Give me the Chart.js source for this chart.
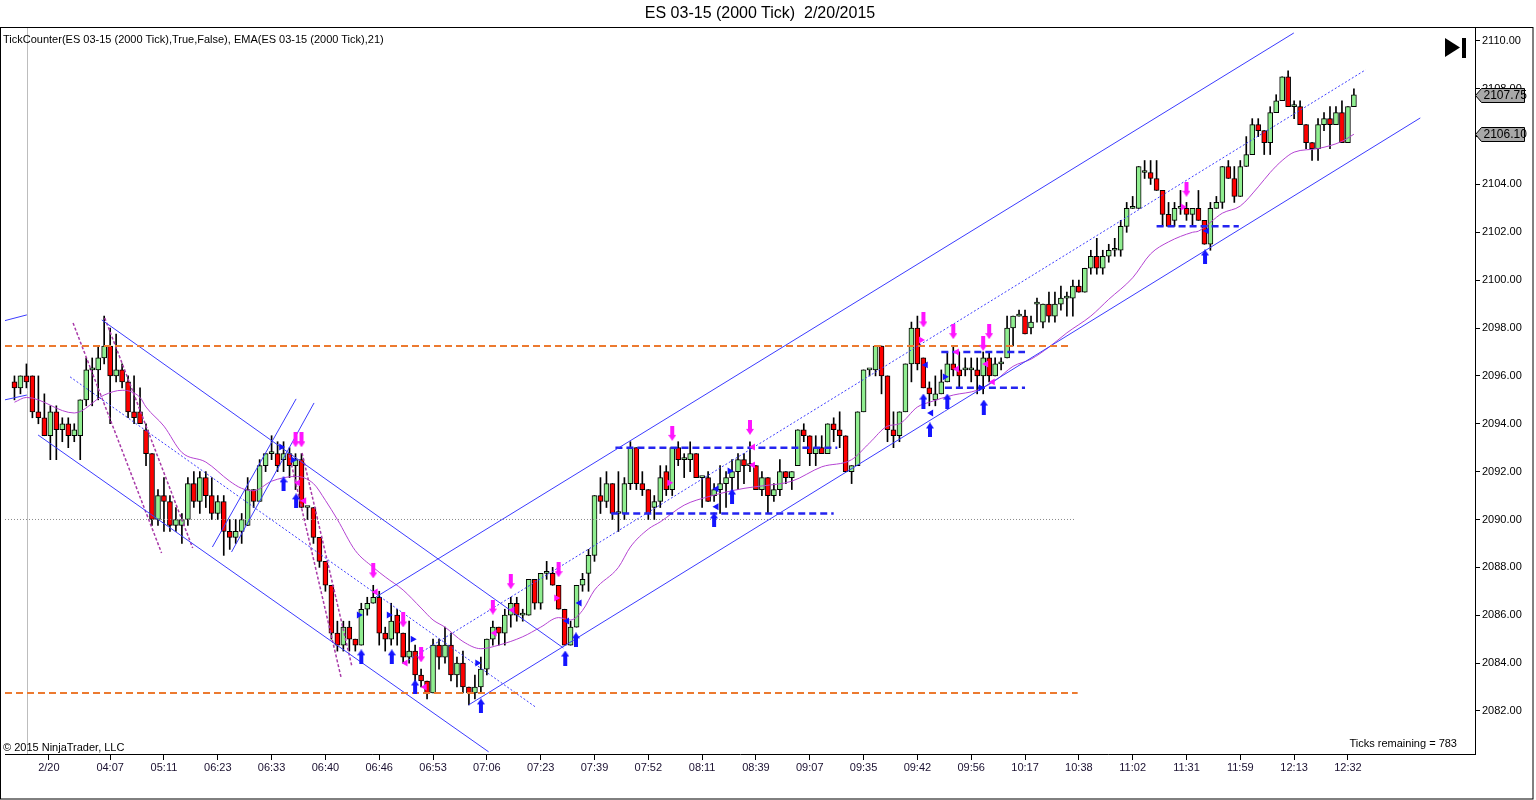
<!DOCTYPE html>
<html>
<head>
<meta charset="utf-8">
<title>ES 03-15 (2000 Tick) 2/20/2015</title>
<script src="https://cdn.jsdelivr.net/npm/chart.js@4.4.1/dist/chart.umd.min.js"></script>
<style>
  html, body { margin: 0; padding: 0; background: #fff; }
  #wrap { position: relative; width: 1536px; height: 800px; overflow: hidden; font-family: "Liberation Sans", Arial, sans-serif; }
  #wrap canvas { position: absolute; left: 0; top: 0; }
  .txt { position: absolute; white-space: pre; color: #000; line-height: 1; }
  #title { left: 0; width: 1520px; top: 5px; text-align: center; font-size: 16px; }
  #study { left: 3px; top: 34px; font-size: 11px; }
  #copy { left: 3px; top: 742px; font-size: 11px; }
  #ticks { right: 79px; top: 738px; font-size: 11px; }
</style>
</head>
<body>
<div id="wrap">
  <canvas id="chart" width="1536" height="800"></canvas>
  <div class="txt" id="title">ES 03-15 (2000 Tick)  2/20/2015</div>
  <div class="txt" id="study">TickCounter(ES 03-15 (2000 Tick),True,False), EMA(ES 03-15 (2000 Tick),21)</div>
  <div class="txt" id="copy">© 2015 NinjaTrader, LLC</div>
  <div class="txt" id="ticks">Ticks remaining = 783</div>
</div>
<script>
// --- data (one bar = one 2000 tick candle) ---

const opens = [2095.75,2095.5,2096,2096,2094.5,2094.25,2093.5,2094.5,2093.75,2094,
  2093.5,2093.5,2095,2096.25,2096.25,2096.75,2097.25,2096,2096.25,2095.75,
  2094.5,2094.5,2093.75,2092.75,2090,2091,2090.75,2089.75,2089.75,2090,
  2091.5,2090.75,2091.75,2091,2090.25,2090.75,2089.5,2089.25,2089.5,2089.75,
  2091.25,2090.75,2092.25,2092.75,2092.75,2092.5,2092.75,2092.25,2092.5,2090.5,
  2090.5,2089.25,2088.25,2087.25,2085.25,2084.75,2085.5,2085,2084.75,2086.25,
  2086.5,2086.75,2085.25,2085,2086,2085.25,2084.25,2084.5,2083.5,2083.25,
  2082.75,2084.75,2084.25,2084.75,2083.5,2084,2083,2082.75,2083,2083.75,
  2085,2085.5,2085.25,2086,2086.5,2086,2086,2087.5,2086.5,2087.75,
  2087.75,2087.25,2086.25,2084.75,2085.5,2087.25,2087.75,2088.5,2091,2090.75,
  2091.5,2090.25,2090.25,2091.5,2093,2091.5,2091.25,2090.5,2090.75,2092,
  2091.25,2093,2092.5,2092.5,2092.75,2091.75,2091.75,2091,2091.25,2091.5,
  2091.75,2092,2092.5,2092.25,2092.25,2091.25,2091.75,2091,2091.25,2092,
  2091.75,2092.25,2093.75,2093.5,2092.75,2093,2092.75,2094,2093.75,2093.5,
  2092,2092.25,2094.5,2096.25,2096.25,2097.25,2096,2093.75,2093.5,2094.5,
  2096.5,2098,2096.75,2095.5,2095,2095.25,2095.75,2096.5,2096.25,2096.25,
  2096.25,2096.25,2096,2096.75,2096,2096.5,2096.75,2098,2098.5,2098.5,
  2098,2099,2098.25,2099,2098.5,2099,2099.25,2099.25,2099.75,2099.5,
  2100.5,2101,2100.5,2101,2101.25,2101.25,2102.25,2103,2103,2104.5,
  2104.5,2104.25,2103.75,2102.75,2102.5,2103,2103,2102.75,2103,2102.5,
  2101.5,2103,2103.25,2104.75,2104.25,2103.5,2104.75,2105.25,2106.5,2106.25,
  2105.75,2107,2107.5,2108.5,2107.25,2107.25,2106.5,2105.75,2105.5,2106.5,
  2106.75,2106.5,2107,2105.75,2107.25];

const highs = [2096,2096,2096.5,2096,2096,2095.25,2094.75,2094.75,2094.25,2094.25,
  2094,2095,2096.75,2096.75,2097.25,2098.5,2098,2097.75,2096.5,2096,
  2096,2095.5,2094,2092.75,2091.25,2091.75,2091,2090.5,2090.25,2091.75,
  2092,2092,2092,2091.75,2091,2091,2090,2090,2090.25,2091.75,
  2091.25,2092.5,2092.75,2093.5,2093.25,2093.25,2093,2092.75,2092.75,2090.5,
  2090.5,2089.25,2088.25,2087.25,2085.75,2085.75,2085.75,2085,2086.5,2086.75,
  2087.25,2087,2085.5,2086.5,2086.25,2085.25,2085.75,2084.75,2083.75,2083.25,
  2085,2085,2085.5,2085.25,2084.25,2084.5,2083,2083.5,2084.25,2085,
  2085.75,2085.5,2086.25,2086.75,2086.75,2086.25,2087.5,2087.5,2087.75,2088.25,
  2088,2087.25,2086.25,2085.75,2087.25,2087.75,2088.75,2091,2091.75,2092,
  2091.5,2092,2091.75,2093.25,2093,2092,2091.25,2091,2092.25,2092.25,
  2093,2093.25,2092.75,2093.25,2092.75,2091.75,2092,2091.5,2092.25,2092,
  2092.5,2092.75,2092.75,2093.25,2092.25,2092,2091.75,2091.5,2092.5,2092,
  2092,2093.75,2094,2093.5,2093.5,2093.5,2094,2094.25,2094.5,2093.5,
  2092.25,2094.5,2096.25,2096.25,2097.25,2097.25,2096,2094.5,2094.5,2096.5,
  2098.25,2098.5,2096.75,2095.75,2096,2096.25,2097,2097.25,2097,2096.75,
  2096.75,2096.75,2097,2097,2096.75,2096.75,2098.5,2098.5,2098.75,2098.75,
  2098.5,2099.25,2099,2099.5,2099.5,2099.75,2099.5,2100,2100,2100.5,
  2101.25,2101.75,2101.25,2101.5,2101.75,2102.5,2103.25,2103.5,2104.75,2105,
  2105,2105,2103.75,2103.25,2103.25,2103.75,2103.25,2103,2103.75,2102.5,
  2103.25,2103.5,2104.75,2105,2104.75,2105,2106,2106.75,2106.75,2106.25,
  2107.25,2107.75,2108.5,2108.75,2107.5,2107.5,2106.5,2105.75,2106.75,2107,
  2107.25,2107.25,2107.5,2107.25,2108];

const lows = [2095,2095.25,2095.5,2094.25,2094,2093.5,2092.5,2092.5,2093.25,2093,
  2093.25,2092.5,2094.75,2094.75,2095,2096.5,2094,2095.75,2095.5,2094.25,
  2094,2094,2092.25,2089.75,2089.75,2089.5,2089.5,2089.5,2089,2089.75,
  2090.5,2090.25,2090.5,2090,2090,2088.5,2088.75,2089,2089,2089.75,
  2090.5,2090.75,2092,2092.5,2092,2092,2091.75,2091.25,2090.5,2090,
  2089,2088,2087,2085,2084.5,2084.5,2084.5,2084.5,2084.75,2086,
  2086.5,2084.75,2084.5,2084.75,2084.75,2084,2084,2083.25,2083,2082.5,
  2082.75,2083.75,2084,2083.25,2083,2082.75,2082.25,2082.5,2082.75,2083.5,
  2084.75,2084.75,2084.75,2085.5,2085.75,2085.75,2086,2086.25,2086.25,2087.5,
  2087.25,2086.25,2084.75,2084.75,2085.5,2087,2087,2088.25,2090.25,2090.5,
  2090,2089.5,2090,2091.25,2091.25,2091,2090,2090,2090.5,2091,
  2091,2092.25,2091.75,2092,2091.75,2090.5,2090.75,2090.75,2090.25,2090.5,
  2091.25,2091.25,2091.5,2092,2091.25,2091,2090.25,2090.75,2091,2091.5,
  2091.25,2092.25,2093.25,2092.25,2092.25,2092.75,2092.75,2093.25,2093,2092,
  2091.5,2092.25,2094.5,2096,2096,2095.25,2093.25,2093,2093.25,2094.5,
  2095.75,2096.25,2095.5,2094.75,2094.75,2095.25,2095.75,2096,2095.5,2096,
  2095.75,2095.25,2095.25,2095.75,2096,2096.25,2096.75,2097.25,2098.5,2097.75,
  2097.75,2098.25,2098,2098.25,2098.25,2098.75,2098.5,2098.5,2099.5,2099.5,
  2100.25,2100.25,2100.25,2100.75,2101,2101,2102,2103,2103,2104.25,
  2104,2103.75,2102.25,2102.25,2102.25,2102.75,2102.5,2102.25,2102.5,2101.5,
  2101.25,2103,2103,2104.25,2103.25,2103.5,2104.75,2105.25,2106,2105.25,
  2105.25,2107,2107.5,2107.25,2106.75,2106.5,2105.5,2105,2105,2106.25,
  2105.5,2106.5,2105.75,2105.75,2107.25];

const closes = [2095.5,2096,2095.75,2094.5,2094.25,2093.5,2094.5,2093.75,2094,2093.5,
  2093.75,2095,2096.25,2096.25,2096.75,2097.25,2096,2096.25,2095.75,2094.5,
  2094.25,2094,2092.75,2090,2091,2090.75,2089.75,2090,2090,2091.5,
  2090.75,2091.75,2091,2090.25,2090.75,2089.5,2089.25,2089.5,2090,2091.25,
  2090.75,2092.25,2092.75,2092.75,2092.25,2092.75,2092.25,2092.5,2090.5,2090.5,
  2089.25,2088.25,2087.25,2085.25,2084.75,2085.5,2085,2084.75,2086.25,2086.5,
  2086.75,2085.25,2085,2085.75,2085.25,2084.25,2084.5,2083.5,2083.25,2082.75,
  2084.75,2084.25,2084.75,2083.5,2084,2083,2082.75,2083,2083.75,2085,
  2085.5,2085.25,2086,2086.5,2086,2086,2087.5,2086.5,2087.75,2087.75,
  2087.25,2086.25,2084.75,2085.5,2087.25,2087.5,2088.5,2091,2090.75,2091.5,
  2090.25,2090.25,2091.5,2093,2091.5,2091.25,2090.25,2090.75,2091.75,2091.25,
  2093,2092.5,2092.5,2092.75,2091.75,2091.75,2090.75,2091.25,2091.5,2091.75,
  2092,2092.5,2092.25,2092.25,2091.25,2091.75,2091,2091.25,2092,2091.75,
  2092,2093.75,2093.5,2092.75,2093,2092.75,2094,2093.75,2093.5,2092,
  2092.25,2094.5,2096.25,2096.25,2097.25,2096,2093.75,2093.5,2094.5,2096.5,
  2098,2096.5,2095.5,2095.25,2095.25,2095.75,2096.5,2096.25,2096,2096.25,
  2096.25,2096,2096.75,2096,2096.5,2096.5,2098,2098.5,2098.5,2097.75,
  2098.25,2099,2099,2098.5,2099,2099.25,2099.25,2099.75,2099.5,2100.5,
  2101,2100.5,2101,2101.25,2101.25,2102.25,2103,2103,2104.75,2104.5,
  2104.25,2103.75,2102.75,2102.25,2103,2103,2102.75,2103,2102.5,2101.5,
  2103,2103.25,2104.75,2104.25,2103.5,2104.75,2105.25,2106.5,2106.25,2105.75,
  2107,2107.5,2108.5,2107.25,2107.25,2106.5,2105.75,2105.5,2106.5,2106.75,
  2106.5,2107,2105.75,2107.25,2107.75];

// EMA(21) as traced on the picture: bar index / value
const emaIdx = [0,2,10,15,18,21,22,25,28,32,36,38,40,43,47,50,52,54,57,60,
  62,65,68,70,72,75,78,81,85,88,91,93,95,97,101,103,106,108,112,116,
  122,125,130,135,140,143,146,148,151,153,157,161,164,167,170,173,176,180,183,187,
  190,193,197,198,202,205,208,210,212,214,218,222,224];
const emaVal = [2094.9,2095.1,2094.45,2095.2,2095.4,2095.1,2094.7,2093.9,2092.8,2092.4,
  2091.6,2091.3,2091.2,2091.6,2091.8,2091.5,2090.8,2090.0,2088.7,2088.0,
  2087.6,2087.05,2086.3,2085.8,2085.5,2084.9,2084.6,2084.75,2085.1,2085.5,
  2085.9,2085.8,2086.2,2087.05,2088.0,2088.85,2089.6,2089.9,2090.6,2090.95,
  2091.3,2091.4,2091.6,2092.2,2092.5,2093.2,2093.9,2094.0,2094.7,2094.9,
  2095.2,2095.4,2095.8,2096.4,2096.7,2097.2,2097.8,2098.5,2099.2,2100.1,
  2101.1,2101.6,2102.0,2102.05,2102.8,2103.1,2103.9,2104.5,2105.0,2105.35,
  2105.5,2105.8,2106.1];

// x axis labels (bar index where each label sits)
const tickIdx = [5.75,16,25,34,43,52,61,70,79,88,97,106,115,124,133,142,151,160,169,178,187,196,205,214,223];
const tickLabels = ['2/20','04:07','05:11','06:23','06:33','06:40','06:46','06:53','07:06','07:23','07:39','07:52',
  '08:11','08:39','09:07','09:35','09:42','09:56','10:17','10:38','11:02','11:31','11:59','12:13','12:32'];
const yTicks = [2082,2084,2086,2088,2090,2092,2094,2096,2098,2100,2102,2104,2106,2108,2110];

// price markers on the right axis
const tagPrices = [2107.75, 2106.10];

// drawn trend lines: [bar index, price] end points
const upChannelTop = [[60.45, 2086.76], [213.95, 2110.33]];
const upChannelMid = [[65.95, 2084.13], [225.95, 2108.79]];
const upChannelBot = [[75.95, 2082.25], [235.1, 2106.78]];
const downChannelTop = [[14.6, 2098.34], [91.8, 2084.63]];
const downChannelMid = [[9.3, 2095.96], [87.1, 2082.17]];
const downChannelBot = [[3.95, 2093.53], [79.3, 2080.29]];
const oldChannelTop = [[-1.6, 2098.31], [2.07, 2098.55]];
const oldChannelBot = [[-1.6, 2095.0], [2.07, 2095.2]];
const miniChannelA = [[33.1, 2088.85], [47.1, 2095.04]];
const miniChannelB = [[36.3, 2088.64], [50.1, 2094.87]];
const steepLines = [
  [[9.8, 2098.21], [24.6, 2088.6]],
  [[15.1, 2098.42], [29.8, 2088.81]],
  [[45.95, 2092.7], [54.6, 2083.42]],
  [[48.1, 2092.78], [56.45, 2083.84]]
];
const orangeLevels = [[2097.25, 176.8], [2082.75, 177.8]];
const priorClose = [2090.0, 177.3];
const blueLevels = [
  [[100.5, 2093.0], [137.6, 2093.0]],
  [[99.8, 2090.25], [137.0, 2090.25]],
  [[155.0, 2097.0], [169.0, 2097.0]],
  [[155.6, 2095.5], [169.0, 2095.5]],
  [[191.0, 2102.25], [204.75, 2102.25]]
];
const sessionBreak = 2.1;

// signal arrows and small markers: [bar index, price]
const upArrows = [[45,2091.49],[47.1,2090.78],[58,2084.26],[63.1,2084.26],[67,2083.0],[78,2082.21],
  [92.1,2084.21],[93.9,2084.97],[117,2089.98],[120,2090.98],[152,2094.95],[153.1,2093.74],
  [156,2094.95],[162.1,2094.7],[199.1,2100.97]];
const downArrows = [[47,2093.33],[48,2093.33],[60,2087.85],[65,2085.8],[68,2084.34],[80,2086.34],
  [83,2087.4],[91,2087.9],[110,2093.6],[123,2093.85],[152,2098.34],[157,2097.85],
  [162,2097.36],[163,2097.85],[196,2103.8]];
const blueRight = [[44.6,2093.03],[46.6,2092.49],[57.6,2086.01],[62.6,2086.01],[66.6,2085.0],
  [77.4,2084.0],[119.6,2092.03],[155.6,2095.96],[161.6,2095.5]];
const blueLeft = [[92.4,2085.76],[94.5,2086.51],[117.4,2091.28],[117.4,2090.53],[152.4,2096.46],
  [153.3,2094.45],[199.4,2102.06]];
const pinkLeft = [[47.4,2091.53],[48.45,2090.78],[60.4,2086.97],[65.4,2084.0],[68.6,2083.0],
  [80.3,2085.26],[83.3,2086.22],[123.5,2093.03],[123.5,2092.28],[157.6,2097.0],[157.6,2096.29],
  [162.5,2096.5],[163.6,2095.75]];
const pinkRight = [[90.6,2086.72],[109.5,2091.53],[151.6,2097.5],[195.4,2103.06]];

// --- chart ---

const FONT = '"Liberation Sans", Arial, sans-serif';
const xMin = -1.5833, xMax = 244.25;
const yMin = 2080.2, yMax = 2110.58;

const pts = arr => arr.map(p => ({x: p[0], y: p[1]}));

function seg(points, color, width, dash) {
  return {
    type: 'line', data: pts(points), borderColor: color, borderWidth: width,
    borderDash: dash || [], pointRadius: 0, fill: false, tension: 0, order: 0
  };
}

// little arrow bitmap used as point style
function arrowImage(color, up) {
  const c = document.createElement('canvas');
  c.width = 8; c.height = 15;
  const g = c.getContext('2d');
  const h = c.height;
  g.fillStyle = color;
  g.beginPath();
  if (up) {
    g.moveTo(4, 0); g.lineTo(8, 6); g.lineTo(6, 6); g.lineTo(6, h); g.lineTo(2, h); g.lineTo(2, 6); g.lineTo(0, 6);
  } else {
    g.moveTo(4, h); g.lineTo(8, h - 6); g.lineTo(6, h - 6); g.lineTo(6, 0); g.lineTo(2, 0); g.lineTo(2, h - 6); g.lineTo(0, h - 6);
  }
  g.closePath();
  g.fill();
  return c;
}

function markers(list, style, color, rotation, radius) {
  return {
    type: 'line', data: pts(list), showLine: false, pointStyle: style,
    pointRadius: radius, pointRotation: rotation, pointBackgroundColor: color,
    pointBorderWidth: 0, pointBorderColor: color, order: -1
  };
}

const bars = opens.map((o, i) => i);

const datasets = [
  {
    type: 'bar', label: 'wicks', order: 3, grouped: false,
    data: bars.map(i => ({x: i, y: [lows[i], highs[i]]})),
    backgroundColor: '#000', borderWidth: 0, barThickness: 1, minBarLength: 1
  },
  {
    type: 'bar', label: 'bodies', order: 2, grouped: false,
    data: bars.map(i => ({x: i, y: [opens[i], closes[i]]})),
    backgroundColor: c => closes[c.dataIndex] >= opens[c.dataIndex] ? '#90ee90' : '#ff0000',
    borderColor: '#000', borderWidth: 1, borderSkipped: false, barThickness: 5, minBarLength: 2
  },
  seg([[xMin, orangeLevels[0][0]], [orangeLevels[0][1], orangeLevels[0][0]]], '#ec7a30', 2, [7, 4]),
  seg([[xMin, orangeLevels[1][0]], [orangeLevels[1][1], orangeLevels[1][0]]], '#ec7a30', 2, [7, 4]),
  seg([[xMin, priorClose[0]], [priorClose[1], priorClose[0]]], '#8a8a8a', 1, [1, 2]),
  seg(upChannelTop, '#3b3bff', 1),
  seg(upChannelMid, '#3b3bff', 1, [2, 2]),
  seg(upChannelBot, '#3b3bff', 1),
  seg(downChannelTop, '#3b3bff', 1),
  seg(downChannelMid, '#3b3bff', 1, [2, 2]),
  seg(downChannelBot, '#3b3bff', 1),
  seg(oldChannelTop, '#3b3bff', 1),
  seg(oldChannelBot, '#3b3bff', 1),
  seg(miniChannelA, '#3b3bff', 1),
  seg(miniChannelB, '#3b3bff', 1),
  ...steepLines.map(l => seg(l, '#a83aa8', 1.5, [3, 2])),
  ...blueLevels.map(l => seg(l, '#2424f0', 2.5, [7, 4])),
  {
    type: 'line', label: 'EMA', data: emaIdx.map((x, k) => ({x, y: emaVal[k]})),
    borderColor: '#b443d2', borderWidth: 1, pointRadius: 0, fill: false,
    cubicInterpolationMode: 'monotone', order: 1
  },
  markers(upArrows, arrowImage('#1414ff', true), '#1414ff', 0, 5),
  markers(downArrows, arrowImage('#ff14ff', false), '#ff14ff', 0, 5),
  markers(blueRight, 'triangle', '#1414ff', 90, 4),
  markers(blueLeft, 'triangle', '#1414ff', -90, 4),
  markers(pinkLeft, 'triangle', '#ff14ff', -90, 4),
  markers(pinkRight, 'triangle', '#ff14ff', 90, 4)
];

const frame = {
  id: 'frame',
  beforeDatasetsDraw(chart) {
    const {ctx, chartArea, scales} = chart;
    const x = Math.round(scales.x.getPixelForValue(sessionBreak)) + 0.5;
    ctx.save();
    ctx.strokeStyle = '#bdbdbd';
    ctx.lineWidth = 1;
    ctx.beginPath();
    ctx.moveTo(x, chartArea.top);
    ctx.lineTo(x, chartArea.bottom);
    ctx.stroke();
    ctx.restore();
  },
  afterDraw(chart) {
    const {ctx, chartArea, scales} = chart;
    ctx.save();
    // outer frame
    ctx.strokeStyle = '#000';
    ctx.lineWidth = 1;
    ctx.strokeRect(0.5, chartArea.top + 0.5, 1532.5, 798.5 - chartArea.top);
    // "jump to end" icon
    const r = chartArea.right;
    ctx.fillStyle = '#000';
    ctx.beginPath();
    ctx.moveTo(r - 30, chartArea.top + 11);
    ctx.lineTo(r - 30, chartArea.top + 30);
    ctx.lineTo(r - 15, chartArea.top + 20.5);
    ctx.closePath();
    ctx.fill();
    ctx.fillRect(r - 13, chartArea.top + 11, 4, 20);
    // price tags
    ctx.font = '12px ' + FONT;
    ctx.textBaseline = 'middle';
    ctx.textAlign = 'left';
    tagPrices.forEach(p => {
      const y = Math.round(scales.y.getPixelForValue(p)) + 0.5;
      const x0 = r + 0.5;
      ctx.beginPath();
      ctx.moveTo(x0, y);
      ctx.lineTo(x0 + 6, y - 7);
      ctx.lineTo(x0 + 49, y - 7);
      ctx.lineTo(x0 + 49, y + 7);
      ctx.lineTo(x0 + 6, y + 7);
      ctx.closePath();
      ctx.fillStyle = '#a8a8a8';
      ctx.fill();
      ctx.strokeStyle = '#000';
      ctx.stroke();
      ctx.fillStyle = '#000';
      ctx.fillText(p.toFixed(2), x0 + 8, y + 0.5);
    });
    ctx.restore();
  }
};

new Chart(document.getElementById('chart'), {
  type: 'bar',
  data: {datasets},
  options: {
    responsive: false,
    animation: false,
    events: [],
    layout: {padding: {top: 27, left: 0, right: 0, bottom: 0}},
    plugins: {legend: {display: false}, tooltip: {enabled: false}, title: {display: false}},
    scales: {
      x: {
        type: 'linear', min: xMin, max: xMax, offset: false,
        grid: {display: true, drawOnChartArea: false, drawTicks: true, tickLength: 6, color: '#000', offset: false},
        border: {display: true, color: '#000', width: 1},
        afterBuildTicks: s => { s.ticks = tickIdx.map(v => ({value: v})); },
        afterFit: s => { s.height = 46; },
        ticks: {
          autoSkip: false, maxRotation: 0, padding: 1, color: '#1a1030',
          font: {family: FONT, size: 11},
          callback: v => tickLabels[tickIdx.indexOf(v)]
        }
      },
      y: {
        type: 'linear', position: 'right', min: yMin, max: yMax, beginAtZero: false,
        grid: {display: true, drawOnChartArea: false, drawTicks: true, tickLength: 5, color: '#000'},
        border: {display: true, color: '#000', width: 1},
        afterBuildTicks: s => { s.ticks = yTicks.map(v => ({value: v})); },
        afterFit: s => { s.width = 61; },
        ticks: {
          padding: 2, color: '#000', font: {family: FONT, size: 11},
          callback: v => v.toFixed(2)
        }
      }
    }
  },
  plugins: [frame]
});
</script>
</body>
</html>
